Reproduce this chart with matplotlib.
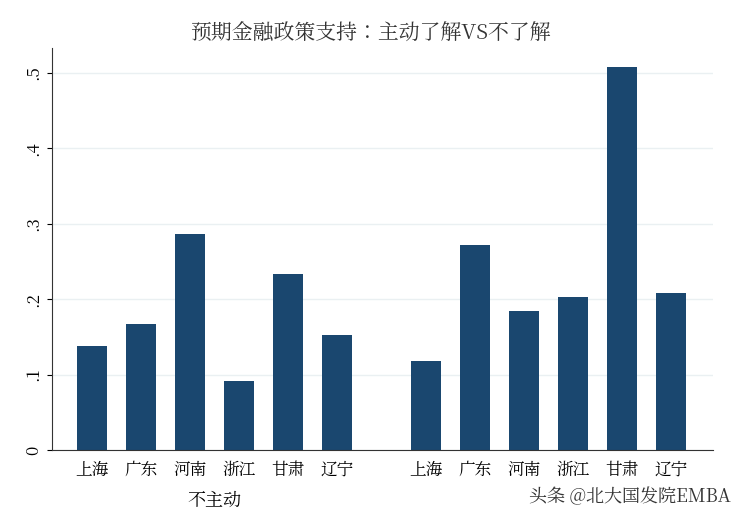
import matplotlib
matplotlib.use("Agg")
import matplotlib.pyplot as plt
from matplotlib import font_manager as fm

cjk = [f.name for f in fm.fontManager.ttflist if "CJK" in f.name]
pref = [n for n in cjk if "SC" in n] or cjk
plt.rcParams["font.family"] = "sans-serif"
plt.rcParams["font.sans-serif"] = (pref[:1] if pref else []) + ["Noto Sans CJK SC", "DejaVu Sans"]

provinces = ["上海", "广东", "河南", "浙江", "甘肃", "辽宁"]
group_labels = ["不主动", ""]
vals_not_active = [0.138, 0.167, 0.287, 0.092, 0.233, 0.153]
vals_active = [0.118, 0.272, 0.184, 0.203, 0.508, 0.208]
yticks = [0, 0.1, 0.2, 0.3, 0.4, 0.5]
ytick_labels = ["0", ".1", ".2", ".3", ".4", ".5"]

fig = plt.figure(figsize=(7.41, 5.23), dpi=100)
ax = fig.add_axes([52/741, 1-450/523, (713-52)/741, (450-48)/523])
color = "#1a476f"
off = 6.82
x1 = list(range(6))
x2 = [off + i for i in range(6)]
ax.bar(x1, vals_not_active, width=0.61, color=color)
ax.bar(x2, vals_active, width=0.61, color=color)
ax.set_xlim(-0.82, off + 5 + 0.86)
ax.set_ylim(0, 0.533)
ax.set_yticks(yticks)
ax.set_yticklabels(ytick_labels, rotation=90, va="center", fontsize=12)
ax.set_xticks(x1 + x2)
ax.set_xticklabels(provinces + provinces, fontsize=12)
ax.tick_params(axis="x", length=0, pad=8)
ax.grid(axis="y", color="#eaf0f2", linewidth=1)
ax.set_axisbelow(True)
for s in ["top", "right"]:
    ax.spines[s].set_visible(False)
ax.spines["left"].set_color("#333333")
ax.spines["bottom"].set_color("#333333")
ax.text(2.5, -0.067, group_labels[0], ha="center", va="center", fontsize=13)
ax.text(off + 2.5, -0.067, group_labels[1], ha="center", va="center", fontsize=13)
fig.text(0.5, 1-33/523, "预期金融政策支持：主动了解VS不了解", ha="center", va="center",
         fontsize=15, color="#333333")
fig.text(1-10/741, 1-497/523, "头条 @北大国发院EMBA", ha="right", va="center",
         fontsize=13, color="#333333")
fig.savefig("out.png", dpi=100, facecolor="white")
